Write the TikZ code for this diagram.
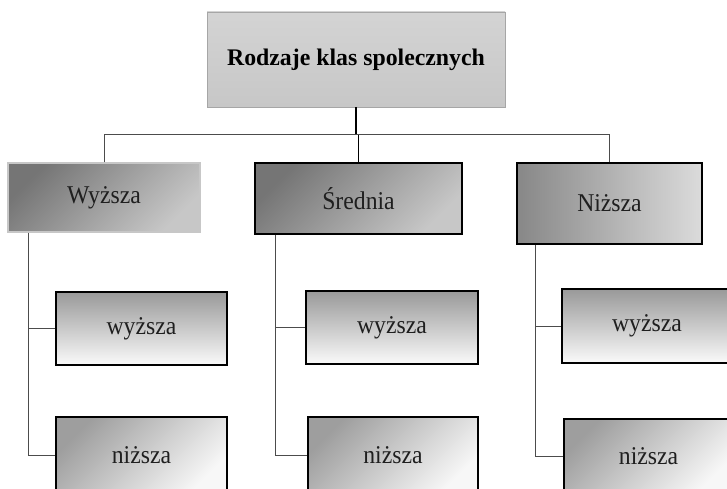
\documentclass[tikz,border=0pt]{standalone}
\usepackage{graphicx}
\usepackage{fontspec}
\setmainfont{Liberation Serif}
% labels in the class boxes are set slightly taller than wide
\newcommand\tallabel[1]{\scalebox{1}[1.08]{#1}}
\begin{document}
\begin{tikzpicture}[x=1pt,y=-1pt,
  box/.style={rectangle, inner sep=0pt, text=black!88, font=\fontsize{23.7}{27}\selectfont},
  rootbox/.style={box, draw=black!35, line width=0.8pt, top color=black!17, bottom color=black!22,
    text=black, font=\fontsize{23.8}{27}\selectfont\bfseries},
  classbox/.style={box, draw=black, line width=1.3pt, top color=black!54, bottom color=black!22, shading angle=45},
  lowclass/.style={box, draw=black, line width=1.3pt, left color=black!47, right color=black!14},
  subup/.style={box, draw=black, line width=1.3pt, top color=black!40, bottom color=black!2},
  sublow/.style={box, draw=black, line width=1.3pt, top color=black!38, bottom color=black!3, shading angle=45},
  trunk/.style={draw=black, line width=1.4pt},
  branch/.style={draw=black!70, line width=1pt}]
\useasboundingbox (0,0) rectangle (727,489);
\fill[white] (0,0) rectangle (727,489);
\clip (0,0) rectangle (727,489);

% root and first level
\node[rootbox, minimum width=298pt, minimum height=95pt] (root) at (356,59.5) {Rodzaje klas spolecznych};
\node[classbox, draw=black!22, minimum width=192pt, minimum height=69pt] (wy) at (104,197.5) {\tallabel{Wyższa}};
\node[classbox, minimum width=207pt, minimum height=71pt] (sr) at (358.5,198.5) {\tallabel{Średnia}};
\node[lowclass, minimum width=185pt, minimum height=81pt] (ni) at (609.5,203.5) {\tallabel{Niższa}};

% second level
\node[subup, minimum width=171pt, minimum height=73pt] (wyA) at (141.5,328.5) {\tallabel{wyższa}};
\node[sublow, minimum width=171pt, minimum height=76pt] (wyB) at (141.5,455) {\tallabel{niższa}};
\node[subup, minimum width=172pt, minimum height=73pt] (srA) at (392,327.5) {\tallabel{wyższa}};
\node[sublow, minimum width=170pt, minimum height=76pt] (srB) at (393,455) {\tallabel{niższa}};
\node[subup, minimum width=170pt, minimum height=74pt] (niA) at (647,326) {\tallabel{wyższa}};
\node[sublow, minimum width=169pt, minimum height=74pt] (niB) at (648.5,456) {\tallabel{niższa}};

% connectors between levels
\coordinate (bus) at (0,135);
\draw[trunk] (root.south) -- (root.south |- bus);
\draw[branch] (wy.north) -- (wy.north |- bus) -- (ni.north |- bus) -- (ni.north);
\draw[branch, draw=black] (sr.north) -- (sr.north |- bus);

% side trees
\coordinate (wyT) at ([xshift=21pt]wy.south west);
\coordinate (srT) at ([xshift=21pt]sr.south west);
\coordinate (niT) at ([xshift=19pt]ni.south west);
\draw[branch] (wyT) |- (wyB.west);
\draw[branch] (wyT |- wyA.west) -- (wyA.west);
\draw[branch] (srT) |- (srB.west);
\draw[branch] (srT |- srA.west) -- (srA.west);
\draw[branch] (niT) |- (niB.west);
\draw[branch] (niT |- niA.west) -- (niA.west);
\end{tikzpicture}
\end{document}
